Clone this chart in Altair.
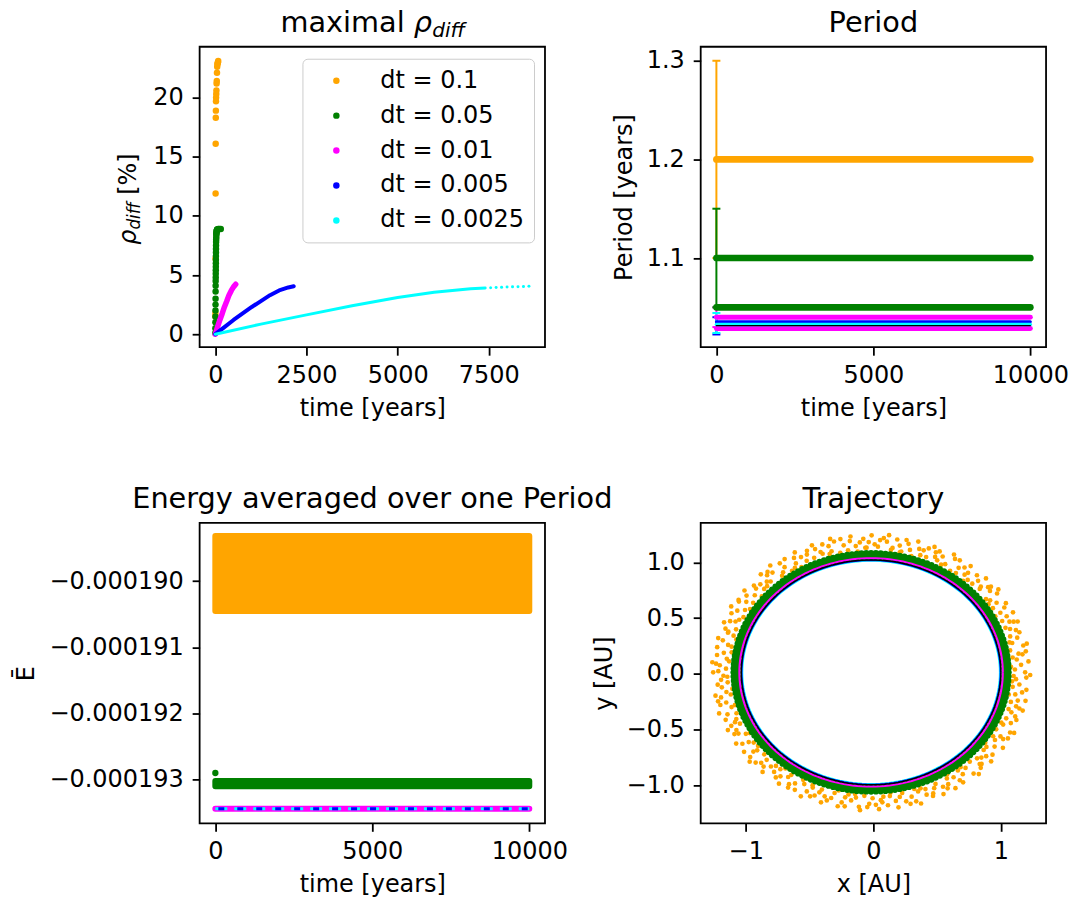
import altair as alt
import numpy as np
import pandas as pd

FONT = "DejaVu Sans"
W, H = 346, 301
TITLE_FS = 28.8
LAB_FS = 24

series_names = ["dt = 0.1", "dt = 0.05", "dt = 0.01", "dt = 0.005", "dt = 0.0025"]
series_colors = ["#ffa500", "#008000", "#ff00ff", "#0000ff", "#00ffff"]
point_sizes = [42, 42, 22, 13, 9]

# ---------------- Panel 1: maximal rho_diff ----------------
rho_orange_t = [1, 3, 6, 8, 10, 13, 16, 19, 22, 26, 30, 35, 40, 46, 52, 58, 64, 72, 80]
rho_orange_v = [1.5, 1.8, 6.4, 11.9, 16.1, 18.3, 18.9, 19.7, 20.0, 20.3, 20.6, 21.2, 21.4, 22.1, 22.6, 22.8, 22.9, 23.0, 23.1]
rho_green_t = [1, 2, 3, 4, 5, 6, 7, 8, 9, 10, 11, 12, 13, 14, 15, 16, 17, 18, 19, 20,
               22, 24, 26, 28, 30, 33, 36, 40, 45, 50, 60, 80, 110, 150]
rho_green_v = [0.1, 0.5, 1.0, 1.5, 2.0, 2.5, 3.0, 3.6, 4.1, 4.5, 4.8, 5.1, 5.4, 5.7, 6.0, 6.3, 6.6, 6.9, 7.2, 7.5,
               7.8, 8.0, 8.2, 8.4, 8.5, 8.6, 8.7, 8.75, 8.8, 8.85, 8.85, 8.9, 8.9, 8.9]
rho_magenta_t = [0, 60, 125, 190, 250, 315, 375, 440, 500, 560]
rho_magenta_v = [0, 0.6, 1.2, 1.75, 2.3, 2.8, 3.3, 3.7, 4.0, 4.22]
rho_blue_t = [0, 250, 500, 750, 1000, 1250, 1500, 1750, 2000, 2150]
rho_blue_v = [0, 0.6, 1.2, 1.75, 2.3, 2.8, 3.3, 3.7, 3.95, 4.05]
rho_cyan_t = [0, 1250, 2500, 3750, 5000, 6000, 7000, 7400]
rho_cyan_v = [0, 0.85, 1.63, 2.4, 3.1, 3.55, 3.85, 3.9]
rho_cyan_sparse_t = [7550, 7700, 7850, 8000, 8150, 8300, 8450, 8600]
rho_cyan_sparse_v = [3.92, 3.94, 3.96, 3.98, 4.0, 4.01, 4.03, 4.05]

# ---------------- Panel 2: Period ----------------
period_line_color = ["#ffa500", "#008000", "#008000", "#ff00ff", "#ff00ff", "#0000ff", "#00ffff", "#000000"]
period_line_value = [1.2, 1.1, 1.05, 1.04, 1.0285, 1.0355, 1.0325, 1.0314]
period_line_width = [6.7, 6.7, 6.7, 5, 5, 3, 3.5, 1.2]
period_t_start = 0
period_t_end = 10000
err_series = ["dt = 0.1", "dt = 0.05", "dt = 0.01", "dt = 0.005", "dt = 0.0025"]
err_lo = [1.1, 1.05, 1.03, 1.0225, 1.024]
err_hi = [1.3, 1.15, 1.05, 1.04, 1.0443]

# ---------------- Panel 3: Energy ----------------
energy_t = [0, 10000]
energy_orange = [-0.00019045, -0.00018932]
energy_green = [-0.00019310, -0.00019302]
energy_green_first_t = [0]
energy_green_first_v = [-0.0001929]
energy_fine = -0.00019344

# ---------------- Panel 4: Trajectory ----------------
orbit_cx, orbit_cy = -0.017, 0.014
orbit_rx, orbit_ry = 1.018, 1.009
orbit_angles = list(range(0, 361, 2))
line_series = ["dt = 0.01", "dt = 0.0025", "dt = 0.005", "exact"]
line_offset = [0.015, -0.008, -0.004, 0.0]
green_offsets = [0.03, 0.045, 0.06]
green_angles = list(range(0, 360, 2))
orange_offsets = [0.19, 0.11, 0.16, 0.08, 0.22, 0.13, 0.18, 0.10, 0.21, 0.15, 0.09, 0.20,
                  0.12, 0.23, 0.10, 0.17, 0.20, 0.12, 0.18, 0.14, 0.22, 0.11, 0.16]
orange_jitter = [0.0, 1.3, 0.6, 1.8, 0.9, 0.3, 1.5]
orange_base_angles = list(range(0, 360, 2))

titles = ["Period", "Energy averaged over one Period", "Trajectory"]

color_scale = alt.Scale(domain=series_names, range=series_colors)


def txt(text, x, y, size=TITLE_FS, style="normal", angle=0, align="center", baseline="alphabetic"):
    kw = dict(font=FONT, fontSize=size, fontStyle=style, align=align, baseline=baseline, color="black")
    if angle:
        kw["angle"] = angle
    return alt.Chart(pd.DataFrame({"s": [text]})).mark_text(**kw).encode(
        text="s:N", x=alt.value(x), y=alt.value(y))


def xq(domain, values, title, fmt="d"):
    return alt.X("x:Q", scale=alt.Scale(domain=domain, nice=False, zero=False),
                 axis=alt.Axis(values=values, title=title, format=fmt))


def yq(domain, values, title, fmt="d"):
    return alt.Y("y:Q", scale=alt.Scale(domain=domain, nice=False, zero=False),
                 axis=alt.Axis(values=values, title=title, format=fmt))


# ===== Panel 1 =====
X1 = xq([-430, 9040], [0, 2500, 5000, 7500], "time [years]")
Y1 = yq([-1.1, 24.3], [0, 5, 10, 15, 20], None)

df_pts = pd.DataFrame({
    "x": rho_orange_t + rho_green_t,
    "y": rho_orange_v + rho_green_v,
    "s": [series_names[0]] * len(rho_orange_t) + [series_names[1]] * len(rho_green_t),
    "o": [0] * len(rho_orange_t) + [1] * len(rho_green_t),
})
size_expr = ("datum.value == 'dt = 0.1' || datum.value == 'dt = 0.05' ? 42 : "
             "datum.value == 'dt = 0.01' ? 22 : datum.value == 'dt = 0.005' ? 13 : 9")
leg = alt.Legend(title=None, orient="none", legendX=103, legendY=12, padding=10,
                 strokeColor="#cccccc", fillColor="white", cornerRadius=5,
                 labelFont=FONT, labelFontSize=LAB_FS, labelColor="black",
                 rowPadding=11, symbolOffset=12, labelOffset=32, symbolStrokeWidth=0, symbolType="circle",
                 symbolSize={"expr": size_expr})
p1_pts = alt.Chart(df_pts).mark_circle(opacity=1).encode(
    x=X1, y=Y1,
    color=alt.Color("s:N", scale=color_scale, legend=leg),
    size=alt.Size("s:N", scale=alt.Scale(domain=series_names, range=point_sizes), legend=None),
    order=alt.Order("o:Q"),
)


def rho_line(t, v, color, width):
    return alt.Chart(pd.DataFrame({"x": t, "y": v})).mark_line(
        color=color, strokeWidth=width, strokeCap="round", strokeJoin="round").encode(x=X1, y=Y1)


p1_mag = rho_line(rho_magenta_t, rho_magenta_v, series_colors[2], 5.5)
p1_blue = rho_line(rho_blue_t, rho_blue_v, series_colors[3], 4)
p1_cyan = rho_line(rho_cyan_t, rho_cyan_v, series_colors[4], 3)
p1_cyan_sparse = alt.Chart(pd.DataFrame({"x": rho_cyan_sparse_t, "y": rho_cyan_sparse_v})).mark_circle(
    color=series_colors[4], size=9, opacity=1).encode(x=X1, y=Y1)

bbox = alt.Chart(pd.DataFrame({"k": [0]})).mark_rect(opacity=0).encode(
    x=alt.value(-199), x2=alt.value(876), y=alt.value(-45), y2=alt.value(857))

p1_title = [
    txt("maximal ", 81, -15, align="left"),
    txt("ρ", 214.6, -15, style="italic", align="left"),
    txt("diff", 233, -9.5, size=TITLE_FS * 0.7, style="italic", align="left"),
]
p1_ylab = [
    txt("ρ", -64, 198.3, size=LAB_FS, style="italic", angle=270, align="left"),
    txt("diff", -59.5, 183.1, size=LAB_FS * 0.7, style="italic", angle=270, align="left"),
    txt("[%]", -64, 148.3, size=LAB_FS, angle=270, align="left"),
]
p1 = alt.layer(bbox, p1_pts, p1_mag, p1_blue, p1_cyan, p1_cyan_sparse, *p1_title, *p1_ylab).properties(width=W, height=H)

# ===== Panel 2 =====
X2 = xq([-500, 10500], [0, 5000, 10000], "time [years]")
Y2 = yq([1.0096, 1.3142], [1.1, 1.2, 1.3], "Period [years]", ".1f")

df_err = pd.DataFrame({"x": [0] * len(err_series), "y": err_lo, "y2": err_hi, "s": err_series})
p2_err = alt.Chart(df_err).mark_rule(strokeWidth=2).encode(
    x=X2, y=Y2, y2="y2:Q", color=alt.Color("s:N", scale=color_scale, legend=None))
p2_cap_hi = alt.Chart(df_err).mark_tick(orient="horizontal", size=8, thickness=2, opacity=1).encode(
    x=X2, y=alt.Y("y2:Q"), color=alt.Color("s:N", scale=color_scale, legend=None))
p2_cap_lo = alt.Chart(df_err).mark_tick(orient="horizontal", size=8, thickness=2, opacity=1).encode(
    x=X2, y=Y2, color=alt.Color("s:N", scale=color_scale, legend=None))
p2_lines = []
for val, col, wd in zip(period_line_value, period_line_color, period_line_width):
    d = pd.DataFrame({"x": [period_t_start], "x2": [period_t_end], "y": [val]})
    p2_lines.append(alt.Chart(d).mark_rule(color=col, strokeWidth=wd, strokeCap="round").encode(
        x=X2, x2="x2:Q", y=Y2))
p2 = alt.layer(p2_err, p2_cap_hi, p2_cap_lo, *p2_lines, txt(titles[0], W / 2, -15)).properties(width=W, height=H)

# ===== Panel 3 =====
X3 = xq([-500, 10500], [0, 5000, 10000], "time [years]")
Y3 = yq([-0.00019366, -0.00018912], [-0.000190, -0.000191, -0.000192, -0.000193], "Ē", ".6f")
df_band = pd.DataFrame({"x": [energy_t[0]] * 2, "x2": [energy_t[1]] * 2,
                        "y": [energy_orange[0], energy_green[0]], "y2": [energy_orange[1], energy_green[1]],
                        "s": series_names[:2]})
p3_band = alt.Chart(df_band).mark_rect(strokeWidth=6, strokeJoin="round").encode(
    x=X3, x2="x2:Q", y=Y3, y2="y2:Q",
    color=alt.Color("s:N", scale=color_scale, legend=None),
    stroke=alt.Stroke("s:N", scale=color_scale, legend=None))
p3_first = alt.Chart(pd.DataFrame({"x": energy_green_first_t, "y": energy_green_first_v})).mark_circle(
    color=series_colors[1], size=40, opacity=1).encode(x=X3, y=Y3)
df_fine = pd.DataFrame({"x": [energy_t[0]], "x2": [energy_t[1]], "y": [energy_fine]})
p3_mag = alt.Chart(df_fine).mark_rule(color=series_colors[2], strokeWidth=6, strokeCap="round").encode(
    x=X3, x2="x2:Q", y=Y3)
p3_cyan = alt.Chart(df_fine).mark_rule(color=series_colors[4], strokeWidth=3, strokeDash=[12, 7]).encode(
    x=X3, x2="x2:Q", y=Y3)
p3_blue = alt.Chart(df_fine).mark_rule(color=series_colors[3], strokeWidth=3, strokeDash=[6, 13],
                                       strokeDashOffset=-3).encode(x=X3, x2="x2:Q", y=Y3)
p3 = alt.layer(p3_band, p3_first, p3_mag, p3_cyan, p3_blue, txt(titles[1], W / 2, -15)).properties(width=W, height=H)

# ===== Panel 4 =====
X4 = xq([-1.353, 1.355], [-1, 0, 1], "x [AU]", "d")
Y4 = yq([-1.34, 1.355], [-1, -0.5, 0, 0.5, 1], "y [AU]", ".1f")
rad = np.radians

orx, ory = [], []
for i, a in enumerate(orange_base_angles):
    for k in range(2):
        ang = rad(a + orange_jitter[(i + k) % len(orange_jitter)])
        off = orange_offsets[(2 * i + k) % len(orange_offsets)]
        orx.append(orbit_cx + (orbit_rx + off) * np.cos(ang))
        ory.append(orbit_cy + (orbit_ry + off) * np.sin(ang))
p4_orange = alt.Chart(pd.DataFrame({"x": orx, "y": ory})).mark_circle(
    color=series_colors[0], size=22, opacity=1).encode(x=X4, y=Y4)

grx, gry = [], []
for off in green_offsets:
    for a in green_angles:
        grx.append(orbit_cx + (orbit_rx + off) * np.cos(rad(a)))
        gry.append(orbit_cy + (orbit_ry + off) * np.sin(rad(a)))
p4_green = alt.Chart(pd.DataFrame({"x": grx, "y": gry})).mark_circle(
    color=series_colors[1], size=40, opacity=1).encode(x=X4, y=Y4)

line_colors = {"dt = 0.01": series_colors[2], "dt = 0.0025": series_colors[4], "dt = 0.005": series_colors[3], "exact": "#000000"}
line_widths = {"dt = 0.01": 2, "dt = 0.0025": 2, "dt = 0.005": 1.5, "exact": 1.5}
p4_lines = []
for s, off in zip(line_series, line_offset):
    d = pd.DataFrame({
        "x": [orbit_cx + (orbit_rx + off) * np.cos(rad(a)) for a in orbit_angles],
        "y": [orbit_cy + (orbit_ry + off) * np.sin(rad(a)) for a in orbit_angles],
        "i": list(range(len(orbit_angles))),
    })
    p4_lines.append(alt.Chart(d).mark_line(color=line_colors[s], strokeWidth=line_widths[s]).encode(
        x=X4, y=Y4, order="i:Q"))
p4 = alt.layer(p4_orange, p4_green, *p4_lines, txt(titles[2], W / 2, -15)).properties(width=W, height=H)

chart = alt.concat(p1, p2, p3, p4, columns=2, spacing={"row": 176, "column": 156}, bounds="flush").resolve_scale(
    color="independent", size="independent", stroke="independent"
).resolve_legend(
    color="independent", size="independent", stroke="independent"
).properties(
    padding=0, background="white"
).configure_view(stroke="black", strokeWidth=1.8).configure_axis(
    grid=False, domain=False, ticks=True, tickColor="black", tickWidth=1.8, tickSize=8,
    labelFont=FONT, labelFontSize=LAB_FS, labelColor="black", labelPadding=8,
    titleFont=FONT, titleFontSize=LAB_FS, titleFontWeight="normal", titleColor="black",
    labelFlush=False, labelOverlap=False,
).configure_axisX(titlePadding=9).configure_axisY(tickSize=7.5, labelPadding=9, titlePadding=10)

chart.save("out.html", embed_options={"renderer": "svg", "actions": False})
